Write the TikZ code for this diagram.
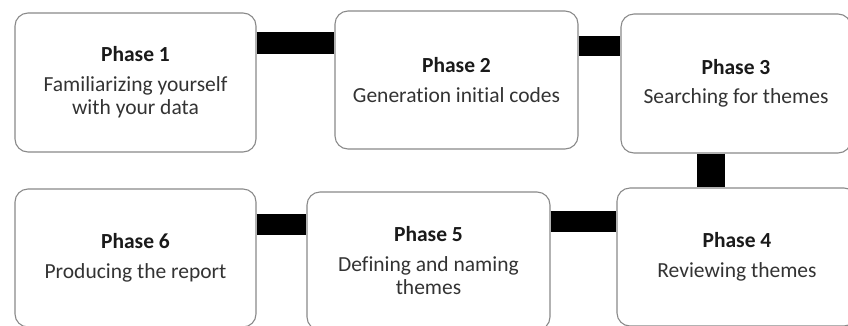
\documentclass[tikz,border=0pt]{standalone}
\usepackage{fontspec}
\setmainfont{Carlito}[Ligatures=NoCommon]
\definecolor{boxline}{HTML}{8A8A8A}
\definecolor{bodytext}{HTML}{333333}
\definecolor{titletext}{HTML}{1A1A1A}
\tikzset{
  phasebox/.style={draw=boxline, line width=1.1pt, fill=white, rounded corners=13pt,
    inner sep=0pt, align=center, text=bodytext,
    font=\fontsize{21.5}{23.5}\selectfont},
  conn/.style={draw=black, line cap=butt}
}
\newcommand{\phasetitle}[1]{\textcolor{titletext}{\bfseries #1}}
\begin{document}
\begin{tikzpicture}[x=1pt,y=-1pt]
\clip (0,0) rectangle (848,325);
\fill[white] (0,0) rectangle (848,325);
\node[phasebox, minimum width=241pt, minimum height=139pt] (b1) at (135.5,82.5)
  {\phasetitle{Phase 1}\\[6pt]Familiarizing yourself\\with your data};
\node[phasebox, minimum width=243pt, minimum height=138pt] (b2) at (456.5,80)
  {\phasetitle{Phase 2}\\[6pt]Generation initial codes};
\node[phasebox, minimum width=230pt, minimum height=139pt] (b3) at (736,83.5)
  {\phasetitle{Phase 3}\\[6pt]Searching for themes};
\node[phasebox, minimum width=240pt, minimum height=138pt] (b4) at (737,257)
  {\phasetitle{Phase 4}\\[6pt]Reviewing themes};
\node[phasebox, minimum width=243pt, minimum height=138pt] (b5) at (428.5,261)
  {\phasetitle{Phase 5}\\[6pt]Defining and naming\\themes};
\node[phasebox, minimum width=241pt, minimum height=138pt] (b6) at (135.5,258)
  {\phasetitle{Phase 6}\\[6pt]Producing the report};
\coordinate (c12) at ([yshift=-31pt]b1.north east);
\coordinate (c23) at ([yshift=-36pt]b2.north east);
\coordinate (c34) at ([xshift=90.5pt]b3.south west);
\coordinate (c54) at ([yshift=-30.5pt]b5.north east);
\coordinate (c65) at ([yshift=-36.5pt]b6.north east);
\draw[conn, line width=22pt] (c12) -- (c12 -| b2.west);
\draw[conn, line width=20pt] (c23) -- (c23 -| b3.west);
\draw[conn, line width=28pt] (c34) -- (c34 |- b4.north);
\draw[conn, line width=21pt] (c54) -- (c54 -| b4.west);
\draw[conn, line width=21pt] (c65) -- (c65 -| b5.west);
\end{tikzpicture}
\end{document}
